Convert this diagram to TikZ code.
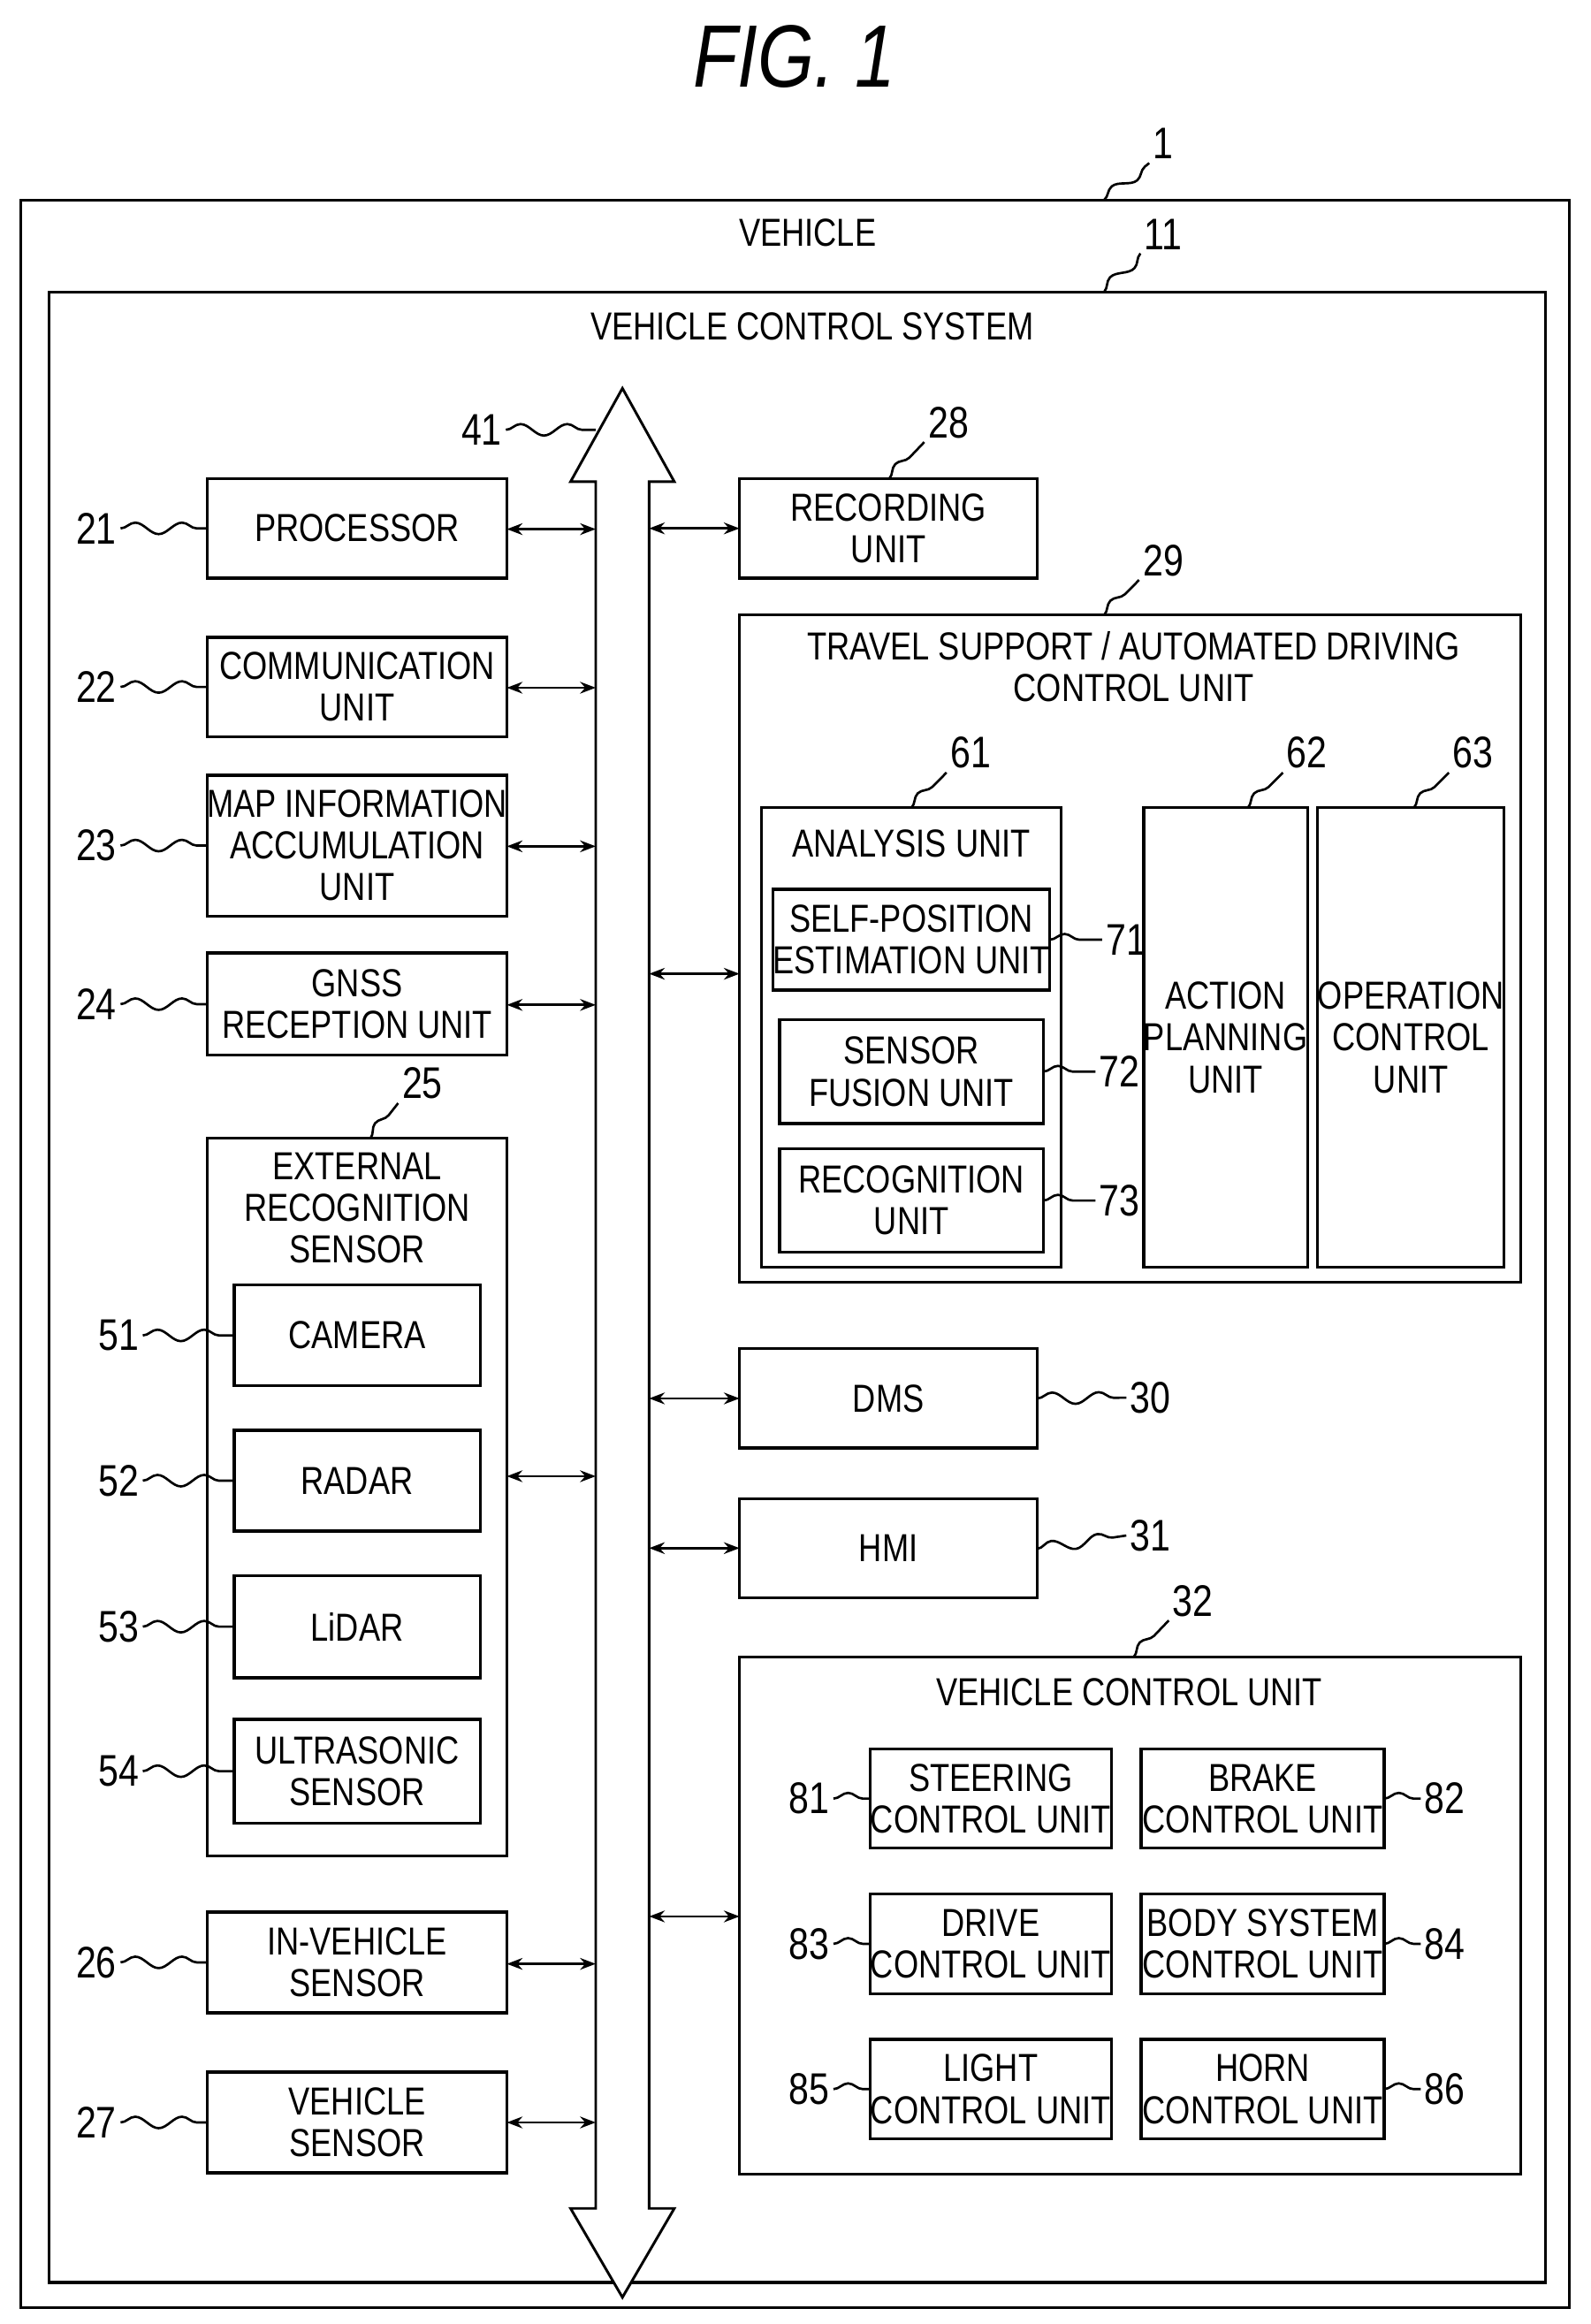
\documentclass[tikz,border=0pt]{standalone}
\usepackage{fontspec}
\setmainfont[FakeStretch=0.82]{Liberation Sans}
\usetikzlibrary{decorations.pathmorphing,arrows.meta}
\newcommand\B[6]{\pgfmathsetmacro\bw{(#4-#2)*0.02}\pgfmathsetmacro\bh{(#5-#3)*0.02}\node[box,minimum width=\bw cm,minimum height=\bh cm] (#1) at ({(#2+#4)/2},{(#3+#5)/2}) {#6};}
\begin{document}
\begin{tikzpicture}[x=0.02cm,y=-0.02cm,line width=1.1pt,
 box/.style={draw,inner sep=0pt,outer sep=0pt,align=center,font=\fontsize{15}{16}\selectfont},
 tt/.style={font=\fontsize{15}{16}\selectfont,align=center},
 num/.style={font=\fontsize{17}{18}\selectfont,inner sep=1pt},
 sq/.style={decorate,decoration={snake,segment length=18pt,amplitude=2.2pt},line width=0.9pt},
 ar/.style={{Stealth[length=6pt]}-{Stealth[length=6pt]},line width=0.9pt}]
\useasboundingbox (0,0) rectangle (1073,1568);
\node[font=\itshape\fontsize{34}{36}\selectfont] (fig) at (536,38) {FIG. 1};
% outer
\B{v}{14}{135}{1059}{1557}{}
\node[tt] (vt) at (545,157) {VEHICLE};
\node[num] (n1) at (785,97) {1};
\draw[sq] (745,135) -- (n1.south west);
\B{s}{33}{197}{1043}{1540}{}
\node[tt] (st) at (548,220) {VEHICLE CONTROL SYSTEM};
\node[num] (n11) at (785,158) {11};
\draw[sq] (745,197) -- (n11.south west);
% bus
\draw[line width=1pt,fill=white] (420,262) -- (455,325) -- (438,325) -- (438,1490) -- (455,1490) -- (420,1550) -- (385,1490) -- (402,1490) -- (402,325) -- (385,325) -- cycle;
\coordinate (bl) at (402,0); \coordinate (br) at (438,0);
\node[num] (n41) at (325,290) {41};
\draw[sq] (n41.east) -- (402,290);
% left boxes
\B{b21}{140}{323}{342}{390}{PROCESSOR}
\B{b22}{140}{430}{342}{497}{COMMUNICATION\\UNIT}
\B{b23}{140}{523}{342}{618}{MAP INFORMATION\\ACCUMULATION\\UNIT}
\B{b24}{140}{643}{342}{712}{GNSS\\RECEPTION UNIT}
\B{b25}{140}{768}{342}{1252}{}
\node[tt] (t25) at (241,815) {EXTERNAL\\RECOGNITION\\SENSOR};
\B{b51}{158}{867}{324}{935}{CAMERA}
\B{b52}{158}{965}{324}{1033}{RADAR}
\B{b53}{158}{1063}{324}{1132}{LiDAR}
\B{b54}{158}{1160}{324}{1230}{ULTRASONIC\\SENSOR}
\B{b26}{140}{1290}{342}{1358}{IN-VEHICLE\\SENSOR}
\B{b27}{140}{1398}{342}{1466}{VEHICLE\\SENSOR}
\foreach \b/\y in {b21/357,b22/464,b23/571,b24/678,b25/996,b26/1325,b27/1432}{
 \draw[ar] (342,\y) -- (402,\y);}
\foreach \n/\b/\x in {21/b21/65,22/b22/65,23/b23/65,24/b24/65,26/b26/65,27/b27/65,51/b51/80,52/b52/80,53/b53/80,54/b54/80}{
 \node[num] (l\n) at (\x,0 |- \b.west) {\n};
 \draw[sq] (l\n.east) -- (\b.west);}
\node[num] (l25) at (285,731) {25};
\draw[sq] (250,768) -- (l25.south west);
% right
\B{b28}{499}{323}{700}{390}{RECORDING\\UNIT}
\node[num] (l28) at (640,285) {28};
\draw[sq] (600,323) -- (l28.south west);
\draw[ar] (br |- b28.west) -- (b28.west);
\B{b29}{499}{415}{1026}{865}{}
\node[tt] (t29) at (765,450) {TRAVEL SUPPORT / AUTOMATED DRIVING\\CONTROL UNIT};
\node[num] (l29) at (785,378) {29};
\draw[sq] (745,415) -- (l29.south west);
\draw[ar] (438,657) -- (499,657);
\B{b61}{514}{545}{716}{855}{}
\node[tt] (t61) at (615,569) {ANALYSIS UNIT};
\node[num] (l61) at (655,508) {61};
\draw[sq] (615,545) -- (l61.south west);
\B{b71}{526}{600}{704}{668}{SELF-POSITION\\ESTIMATION UNIT}
\B{b72}{526}{688}{704}{758}{SENSOR\\FUSION UNIT}
\B{b73}{526}{775}{704}{845}{RECOGNITION\\UNIT}
\foreach \n in {71,72,73}{
 \node[num,anchor=west] (l\n) at ([xshift=20pt]b\n.east) {\n};
 \draw[sq] (b\n.east) -- (l\n.west);}
\B{b62}{773}{545}{881}{855}{ACTION\\PLANNING\\UNIT}
\B{b63}{891}{545}{1013}{855}{OPERATION\\CONTROL\\UNIT}
\node[num] (l62) at (882,508) {62};
\draw[sq] (842,545) -- (l62.south west);
\node[num] (l63) at (994,508) {63};
\draw[sq] (954,545) -- (l63.south west);
\B{b30}{499}{910}{700}{977}{DMS}
\B{b31}{499}{1011}{700}{1078}{HMI}
\draw[ar] (br |- b30.west) -- (b30.west);
\draw[ar] (br |- b31.west) -- (b31.west);
\node[num,anchor=west] (l30) at (760,943) {30};
\draw[sq] (b30.east) -- (l30.west);
\node[num,anchor=west] (l31) at (760,1036) {31};
\draw[sq] (700,1045) -- (l31.west);
\B{b32}{499}{1118}{1026}{1467}{}
\node[tt] (t32) at (762,1142) {VEHICLE CONTROL UNIT};
\node[num] (l32) at (805,1080) {32};
\draw[sq] (765,1118) -- (l32.south west);
\draw[ar] (438,1293) -- (499,1293);
\B{b81}{587}{1180}{750}{1247}{STEERING\\CONTROL UNIT}
\B{b82}{770}{1180}{934}{1247}{BRAKE\\CONTROL UNIT}
\B{b83}{587}{1278}{750}{1345}{DRIVE\\CONTROL UNIT}
\B{b84}{770}{1278}{934}{1345}{BODY SYSTEM\\CONTROL UNIT}
\B{b85}{587}{1376}{750}{1443}{LIGHT\\CONTROL UNIT}
\B{b86}{770}{1376}{934}{1443}{HORN\\CONTROL UNIT}
\foreach \n in {81,83,85}{
 \node[num,anchor=east] (l\n) at ([xshift=-14pt]b\n.west) {\n};
 \draw[sq] (l\n.east) -- (b\n.west);}
\foreach \n in {82,84,86}{
 \node[num,anchor=west] (l\n) at ([xshift=14pt]b\n.east) {\n};
 \draw[sq] (b\n.east) -- (l\n.west);}
\end{tikzpicture}
\end{document}
